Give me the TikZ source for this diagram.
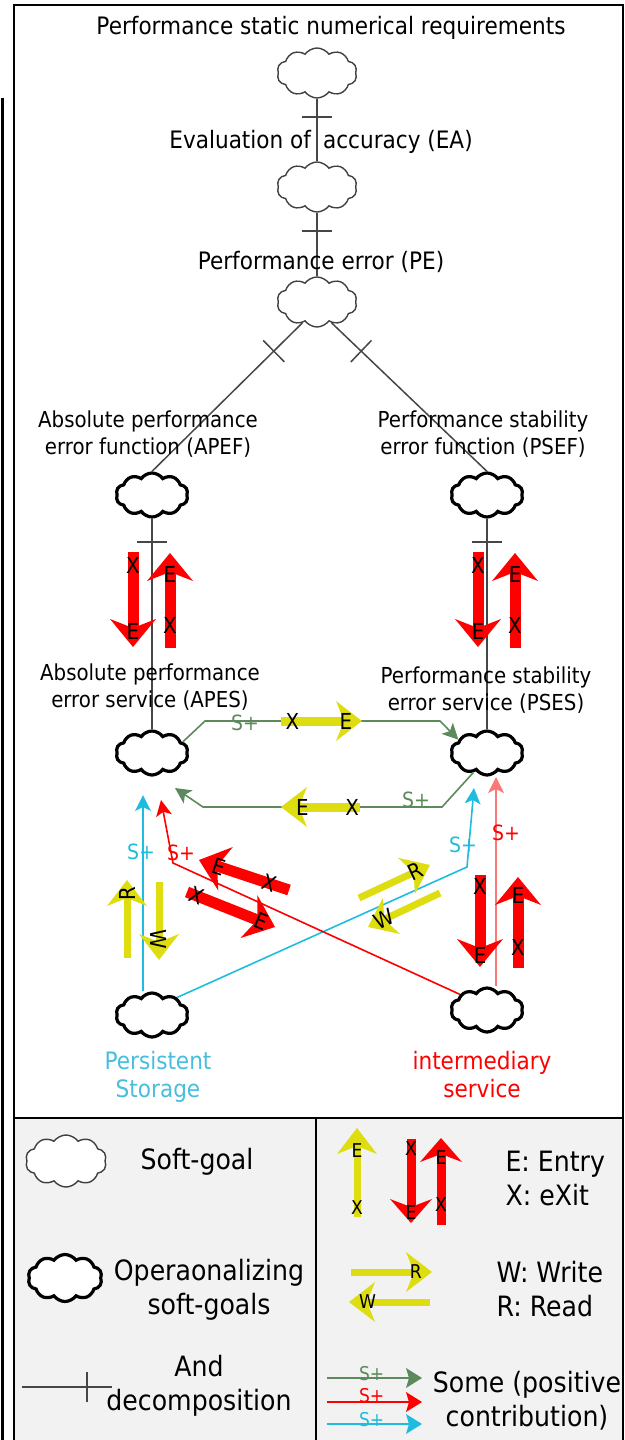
\documentclass[tikz,border=0pt]{standalone}
\usepackage{fontspec}
\setmainfont{DejaVu Sans}[FakeStretch=0.9]
\usetikzlibrary{shapes.symbols,arrows.meta,decorations.markings}
\definecolor{yel}{RGB}{221,221,17}
\definecolor{grn}{RGB}{92,138,92}
\definecolor{cyn}{RGB}{30,188,222}
\definecolor{cyntext}{RGB}{70,190,220}
\definecolor{pinkred}{RGB}{250,120,120}
\definecolor{legbg}{RGB}{242,242,242}
\definecolor{linegray}{RGB}{70,70,70}
\begin{document}
\begin{tikzpicture}[x=1pt,y=-1pt,
  softgoal/.style={cloud, cloud puffs=10, cloud puff arc=110, cloud ignores aspect,
    draw=black!75, fill=white, line width=1.4pt, minimum width=80pt, minimum height=50pt, inner sep=0pt},
  opergoal/.style={cloud, cloud puffs=10, cloud puff arc=110, cloud ignores aspect,
    draw=black, fill=white, line width=3.2pt, minimum width=72pt, minimum height=44pt, inner sep=0pt},
  ttl/.style={font=\fontsize{24}{28}\selectfont},
  lab/.style={font=\fontsize{22}{27}\selectfont, align=center},
  leg/.style={font=\fontsize{28}{34}\selectfont, align=center},
  splus/.style={font=\fontsize{21}{24}\selectfont, inner sep=0pt},
  ltr/.style={font=\fontsize{22}{24}\selectfont, inner sep=0pt, text=black},
  sltr/.style={font=\fontsize{19}{20}\selectfont, inner sep=0pt, text=black},
  andl/.style={draw=linegray, line width=1.5pt},
  andtick/.style={postaction={decorate, decoration={markings,
    mark=at position #1 with {\draw[draw=linegray, line width=1.5pt] (0pt,-15pt) -- (0pt,15pt);}}}},
  thintip/.style={-{Stealth[length=16pt, width=16pt, inset=4pt, line width=0pt]}},
  grnc/.style={draw=grn, line width=1.6pt, thintip},
  cync/.style={draw=cyn, line width=1.6pt, thintip},
  redc/.style={draw=red, line width=1.6pt, thintip},
  pinkc/.style={draw=pinkred, line width=1.6pt, thintip},
  redfat/.style={draw=red, line width=11pt, -{Stealth[length=28pt, width=46pt, inset=9pt, line width=0pt]}},
  yelfat/.style={draw=yel, line width=9pt, -{Stealth[length=26pt, width=40pt, inset=8pt, line width=0pt]}},
  legtip/.style={line width=2.6pt, -{Stealth[length=16pt, width=20pt, inset=3pt, line width=0pt]}}
]
\useasboundingbox (0,0) rectangle (624,1440);

% frame and legend panel
\fill[legbg] (14,1118) rectangle (624,1440);
\draw[line width=2pt] (14,1445) -- (14,5) -- (623,5) -- (623,1445);
\draw[line width=2pt] (14,1118) -- (624,1118);
\draw[line width=1.5pt] (316,1118) -- (316,1440);
\draw[line width=3pt] (2,98) -- (2,1440);

% goals
\node[softgoal] (sg1) at (317,73) {};
\node[softgoal] (sg2) at (317,187) {};
\node[softgoal] (sg3) at (317,302) {};
\node[opergoal] (apef) at (152,495) {};
\node[opergoal] (psef) at (487,495) {};
\node[opergoal] (apes) at (152,753) {};
\node[opergoal] (pses) at (487,753) {};
\node[opergoal] (pst) at (152,1015) {};
\node[opergoal] (imd) at (487,1010) {};

% AND decompositions
\draw[andl, andtick=0.29] (sg1.south) -- (sg2.north);
\draw[andl, andtick=0.29] (sg2.south) -- (sg3.north);
\draw[andl, andtick=0.19] (sg3.235) -- (apef.north);
\draw[andl, andtick=0.19] (sg3.305) -- (psef.north);
\draw[andl, andtick=0.11] (apef.south) -- (apes.north);
\draw[andl, andtick=0.11] (psef.south) -- (pses.north);

% labels
\node[ttl] (t0) at (331,28) {Performance static numerical requirements};
\node[ttl] (tEA) at (321,142) {Evaluation of\enspace accuracy (EA)};
\node[ttl] (tPE) at (321,262) {Performance error (PE)};
\node[lab] (tAPEF) at (148,434) {Absolute performance\\error function (APEF)};
\node[lab] (tPSEF) at (483,434) {Performance stability\\error function (PSEF)};
\node[lab] (tAPES) at (150,687) {Absolute performance\\error service (APES)};
\node[lab] (tPSES) at (486,690) {Performance stability\\error service (PSES)};
\node[ttl, align=center, text=cyntext] (tPS) at (158,1077) {Persistent\\Storage};
\node[ttl, align=center, text=red] (tIS) at (482,1075) {intermediary\\service};

% entry / exit between functions and services
\draw[redfat] (133,552) -- node[ltr,pos=.14]{X} node[ltr,pos=.84]{E} (133,647);
\draw[redfat] (170,648) -- node[ltr,pos=.24]{X} node[ltr,pos=.77]{E} (170,553);
\draw[redfat] (478,552) -- node[ltr,pos=.14]{X} node[ltr,pos=.84]{E} (478,647);
\draw[redfat] (515,648) -- node[ltr,pos=.24]{X} node[ltr,pos=.77]{E} (515,553);

% contributions between services
\coordinate (g1) at (205,721); \coordinate (g2) at (440,721);
\draw[grnc] (apes.20) -- (g1) -- (g2) -- (pses.155);
\coordinate (g3) at (442,807); \coordinate (g4) at (203,807); \coordinate (g5) at (175,788);
\draw[grnc] (pses.235) -- (g3) -- (g4) -- (g5);
\node[splus, text=grn] at (245,723) {S+};
\node[splus, text=grn] at (416,800) {S+};
\draw[yelfat] (281,721) -- node[ltr,pos=.14]{X} node[ltr,pos=.8]{E} (362,721);
\draw[yelfat] (360,807) -- node[ltr,pos=.1]{X} node[ltr,pos=.73]{E} (281,807);

% contributions from persistent storage
\coordinate (c1) at (143,795);
\draw[cync] (pst.north -| c1) -- (c1);
\coordinate (c2) at (467,867); \coordinate (c3) at (474,788);
\draw[cync] (pst.35) -- (c2) -- (c3);
% contributions from intermediary service
\coordinate (r1) at (173,863); \coordinate (r2) at (161,800);
\draw[redc] (imd.150) -- (r1) -- (r2);
\coordinate (r3) at (496,777);
\draw[pinkc] (imd.north -| r3) -- (r3);
\node[splus, text=cyn] at (141,852) {S+};
\node[splus, text=cyn] at (463,845) {S+};
\node[splus, text=red] at (181,853) {S+};
\node[splus, text=red] at (506,833) {S+};

% read / write and entry / exit near the sources
\draw[yelfat, line width=7pt] (127,958) -- node[ltr,sloped,pos=.83]{R} (127,880);
\draw[yelfat, line width=7pt] (159,882) -- node[ltr,sloped,pos=.74]{W} (159,960);
\draw[redfat] (289,890) -- node[ltr,sloped,pos=.22]{X} node[ltr,sloped,pos=.78]{E} (199,860);
\draw[redfat] (187,892) -- node[ltr,sloped,pos=.11]{X} node[ltr,sloped,pos=.84]{E} (275,927);
\draw[yelfat, line width=7pt] (359,898) -- node[ltr,sloped,pos=.8]{R} (430,865);
\draw[yelfat, line width=7pt] (440,893) -- node[ltr,sloped,pos=.78]{W} (368,927);
\draw[redfat] (480,875) -- node[ltr,pos=.13]{X} node[ltr,pos=.87]{E} (480,967);
\draw[redfat] (518,968) -- node[ltr,pos=.23]{X} node[ltr,pos=.8]{E} (518,877);

% legend, left column
\node[softgoal, minimum width=81pt, minimum height=52pt] (lg1) at (66,1161) {};
\node[leg] (lt1) at (197,1162) {Soft-goal};
\node[opergoal, minimum width=74pt, minimum height=47pt] (lg2) at (65,1278) {};
\node[leg] (lt2) at (209,1290) {Operaonalizing\\soft-goals};
\coordinate (la) at (22,1387); \coordinate (lb) at (112,1387);
\draw[andl, andtick=0.72] (la) -- (lb);
\node[leg] (lt3) at (199,1386) {And\\decomposition};

% legend, right column
\draw[yelfat, line width=7pt] (357,1217) -- node[sltr,pos=.11]{X} node[sltr,pos=.75]{E} (357,1128);
\draw[redfat, line width=9pt, -{Stealth[length=24pt, width=42pt, inset=8pt, line width=0pt]}]
  (411,1139) -- node[sltr,pos=.11]{X} node[sltr,pos=.87]{E} (411,1223);
\draw[redfat, line width=9pt, -{Stealth[length=24pt, width=42pt, inset=8pt, line width=0pt]}]
  (441,1225) -- node[sltr,pos=.23]{X} node[sltr,pos=.77]{E} (441,1138);
\node[leg, align=left, anchor=west] (lt4) at (502,1178) {E: Entry\\X: eXit};
\draw[yelfat, line width=7pt] (351,1272) -- node[sltr,pos=.8]{R} (432,1272);
\draw[yelfat, line width=7pt] (430,1302) -- node[sltr,pos=.77]{W} (349,1302);
\node[leg, align=left, anchor=west] (lt5) at (493,1289) {W: Write\\R: Read};
\coordinate (s1a) at (327,1378); \coordinate (s1b) at (422,1378);
\coordinate (s2a) at (327,1402); \coordinate (s2b) at (422,1402);
\coordinate (s3a) at (327,1424); \coordinate (s3b) at (422,1424);
\draw[draw=grn, legtip] (s1a) -- node[splus, text=grn, pos=.47, yshift=4pt, font=\fontsize{19}{20}\selectfont]{S+} (s1b);
\draw[draw=red, legtip] (s2a) -- node[splus, text=red, pos=.47, yshift=6pt, font=\fontsize{19}{20}\selectfont]{S+} (s2b);
\draw[draw=cyn, legtip] (s3a) -- node[splus, text=cyn, pos=.47, yshift=4pt, font=\fontsize{19}{20}\selectfont]{S+} (s3b);
\node[leg] (lt6) at (527,1401) {Some (positive\\contribution)};
\end{tikzpicture}
\end{document}
